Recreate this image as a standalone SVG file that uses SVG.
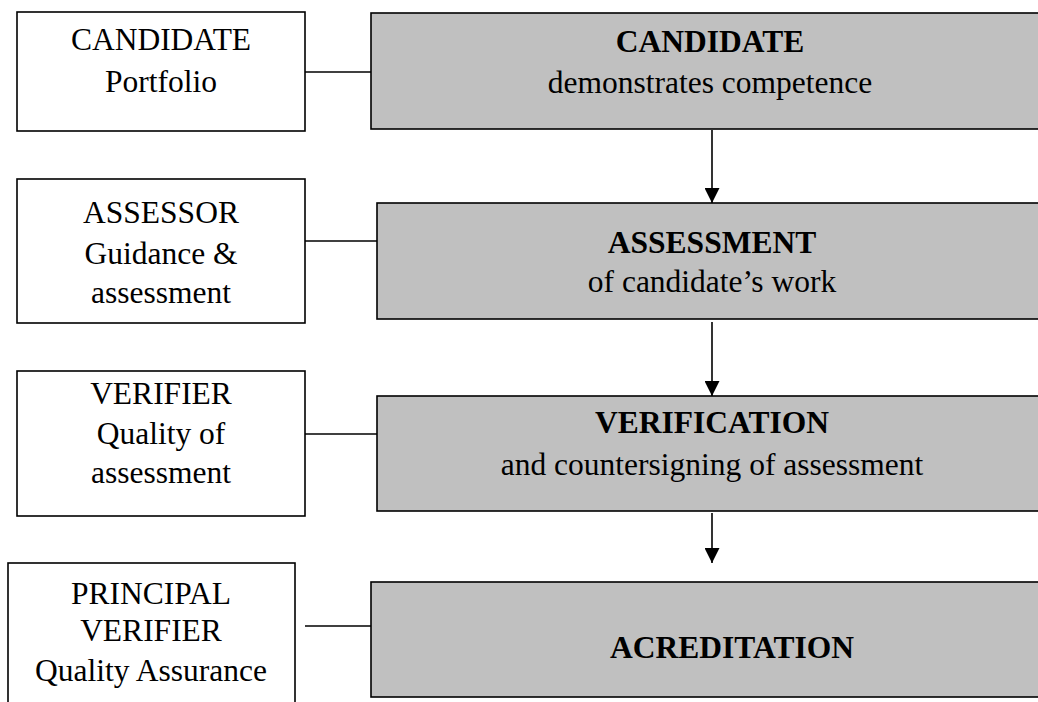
<svg xmlns="http://www.w3.org/2000/svg" width="1038" height="702" viewBox="0 0 1038 702">
<style>
.box{fill:#ffffff;stroke:#000;stroke-width:1.6}
.grey{fill:#c0c0c0;stroke:#000;stroke-width:1.6}
text{font-family:"Liberation Serif","Times New Roman",serif;font-size:31.5px;fill:#000;text-anchor:middle}
.b{font-weight:bold}
.ln{stroke:#000;stroke-width:1.6;fill:none}
</style>
<defs>
<marker id="ah" viewBox="0 0 10 10" refX="10" refY="5" markerWidth="15" markerHeight="15" markerUnits="userSpaceOnUse" orient="auto">
<path d="M0,0 L10,5 L0,10 Z" fill="#000"/>
</marker>
</defs>
<rect width="1038" height="702" fill="#ffffff"/>
<g id="connectors">
<line class="ln" x1="305" y1="72" x2="378" y2="72"/>
<line class="ln" x1="305" y1="241" x2="378" y2="241"/>
<line class="ln" x1="305" y1="434" x2="377" y2="434"/>
<line class="ln" x1="305" y1="626" x2="378" y2="626"/>
<line class="ln" x1="712" y1="130" x2="712" y2="203" marker-end="url(#ah)"/>
<line class="ln" x1="712" y1="322" x2="712" y2="396" marker-end="url(#ah)"/>
<line class="ln" x1="712" y1="513" x2="712" y2="563" marker-end="url(#ah)"/>
</g>
<g id="candidate-portfolio">
<rect class="box" x="17" y="12" width="288" height="119"/>
<text x="161" y="50">CANDIDATE</text>
<text x="161" y="92">Portfolio</text>
</g>
<g id="candidate-demonstrates">
<rect class="grey" x="371" y="13" width="690" height="116"/>
<text class="b" x="710" y="52">CANDIDATE</text>
<text x="710" y="93">demonstrates competence</text>
</g>
<g id="assessor">
<rect class="box" x="17" y="179" width="288" height="144"/>
<text x="161" y="223">ASSESSOR</text>
<text x="161" y="264">Guidance &amp;</text>
<text x="161" y="303">assessment</text>
</g>
<g id="assessment">
<rect class="grey" x="377" y="203" width="690" height="116"/>
<text class="b" x="712" y="253">ASSESSMENT</text>
<text x="712" y="292">of candidate’s work</text>
</g>
<g id="verifier">
<rect class="box" x="17" y="371" width="288" height="145"/>
<text x="161" y="404">VERIFIER</text>
<text x="161" y="444">Quality of</text>
<text x="161" y="483">assessment</text>
</g>
<g id="verification">
<rect class="grey" x="377" y="396" width="690" height="115"/>
<text class="b" x="712" y="433">VERIFICATION</text>
<text x="712" y="475">and countersigning of assessment</text>
</g>
<g id="principal-verifier">
<rect class="box" x="8" y="563" width="287" height="160"/>
<text x="151" y="604">PRINCIPAL</text>
<text x="151" y="641">VERIFIER</text>
<text x="151" y="681">Quality Assurance</text>
</g>
<g id="acreditation">
<rect class="grey" x="371" y="582" width="690" height="115"/>
<text class="b" x="732" y="658">ACREDITATION</text>
</g>
</svg>
